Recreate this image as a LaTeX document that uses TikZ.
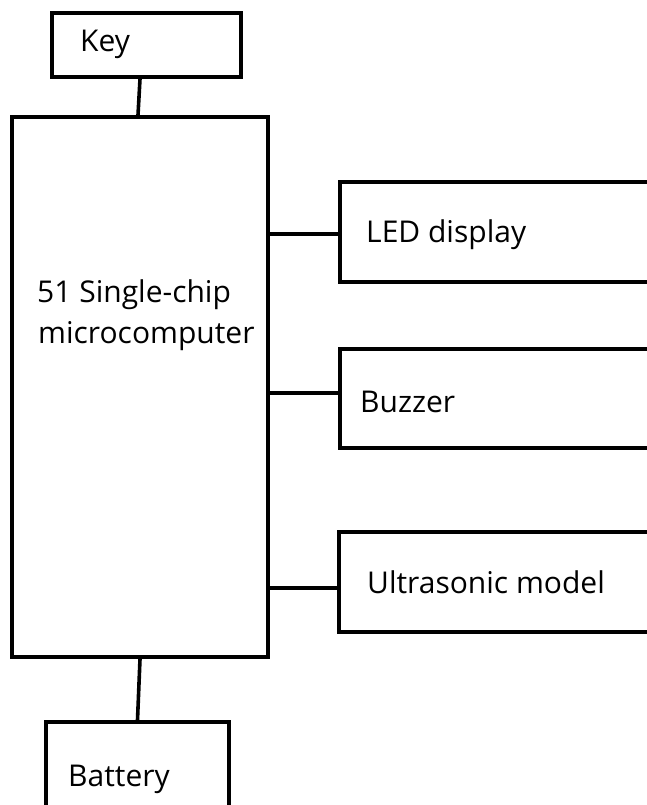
\documentclass[tikz,border=0pt]{standalone}
\usepackage{fontspec}
\setmainfont{Open Sans}
\tikzset{
  box/.style={draw=black, line width=4pt, rectangle, inner sep=0pt, fill=white},
  lbl/.style={anchor=base west, inner sep=0pt, font=\fontsize{30}{36}\selectfont},
  wire/.style={draw=black, line width=3.6pt}
}
\begin{document}
\begin{tikzpicture}[x=1pt,y=-1pt]
\useasboundingbox (0,0) rectangle (647,805);
\clip (0,0) rectangle (647,805);
\fill[white] (0,0) rectangle (647,805);
\node[box, minimum width=189pt, minimum height=64pt] (key) at (146.5,45) {};
\node[box, minimum width=256pt, minimum height=540pt] (main) at (140,387) {};
\node[box, minimum width=360pt, minimum height=100pt] (led) at (520,232) {};
\node[box, minimum width=360pt, minimum height=99pt] (buz) at (520,398.5) {};
\node[box, minimum width=360pt, minimum height=100pt] (ult) at (519,582) {};
\node[box, minimum width=183pt, minimum height=138pt] (bat) at (137.5,791) {};
\node[lbl] (tkey) at (80,52) {Key};
\node[lbl] (tm1) at (37,302) {51 Single-chip};
\node[lbl] (tm2) at (38,343) {microcomputer};
\node[lbl] (tled) at (366,242) {LED display};
\node[lbl] (tbuz) at (360,412) {Buzzer};
\node[lbl] (tult) at (367,593) {Ultrasonic model};
\node[lbl] (tbat) at (68,786) {Battery};
\draw[wire] ([xshift=-6.5pt]key.south) -- ([xshift=-2pt]main.north);
\draw[wire] ([yshift=-2pt]led.west -| main.east) -- ([yshift=-2pt]led.west);
\draw[wire] ([yshift=5.5pt]buz.west -| main.east) -- ([yshift=5.5pt]buz.west);
\draw[wire] ([yshift=-6pt]ult.west -| main.east) -- ([yshift=-6pt]ult.west);
\draw[wire] (main.south) -- (bat.north);
\end{tikzpicture}
\end{document}
